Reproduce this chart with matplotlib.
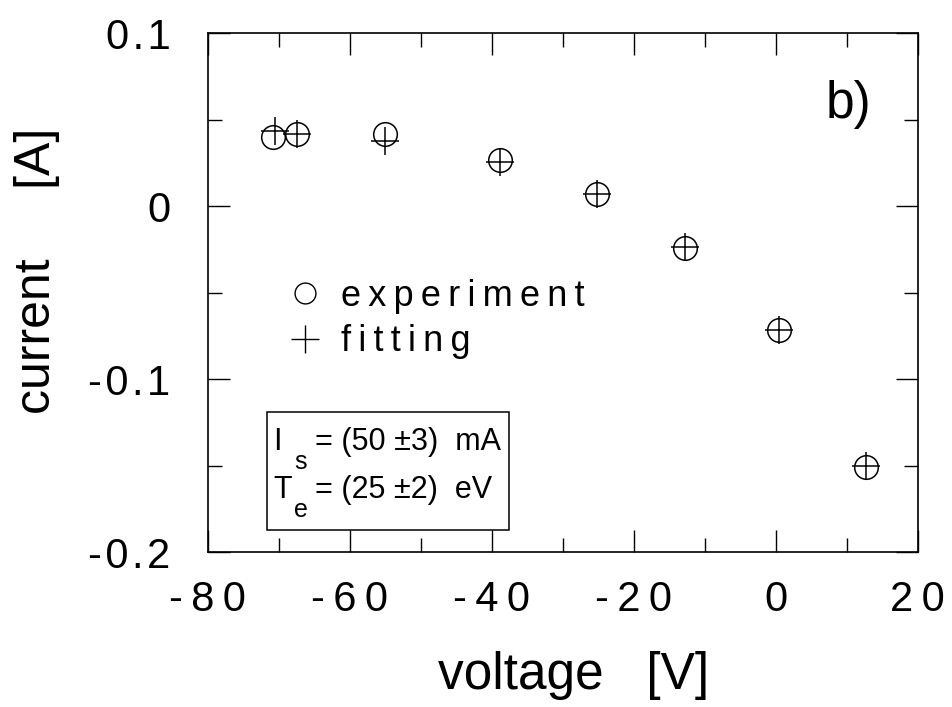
import matplotlib
matplotlib.use("Agg")
import matplotlib.pyplot as plt
from matplotlib.lines import Line2D
from matplotlib.patches import Rectangle
from matplotlib.ticker import MultipleLocator, FuncFormatter

plt.rcParams['font.family'] = ['Liberation Sans', 'DejaVu Sans']

volt_exp = [-70.8, -67.4, -55.0, -38.8, -25.2, -12.8, 0.5, 12.7]
curr_exp = [0.0398, 0.0417, 0.0420, 0.0267, 0.0071, -0.0240, -0.0717, -0.1506]
volt_fit = [-70.5, -67.4, -55.0, -38.8, -25.2, -12.8, 0.5, 12.7]
curr_fit = [0.0437, 0.0417, 0.0375, 0.0254, 0.0071, -0.0235, -0.0717, -0.1500]

legend_labels = ["experiment", "fitting"]
# fit result box: symbol, subscript, rest of the line
fit_symbols = ["I", "T"]
fit_subs = ["s", "e"]
fit_rest = ["= (50 \u00b13)  mA", "= (25 \u00b12)  eV"]

THIN = "\u2009"
HAIR = "\u200a"


def spaced_x(val, pos):
    # the old plotting package puts gaps between the characters
    s = "%g" % val
    return THIN.join(s)


def spaced_y(val, pos):
    s = "%g" % round(val, 3)
    if s == "-0":
        s = "0"
    return HAIR.join(s)


fig = plt.figure(figsize=(9.53, 7.07), dpi=100)
ax = fig.add_axes([0.218, 0.219, 0.745, 0.734])

ax.plot(volt_exp, curr_exp, linestyle='none', marker='o', ms=17,
        mfc='none', mec='black', mew=1.1)
ax.plot(volt_fit, curr_fit, linestyle='none', marker='+', ms=20,
        color='black', mew=1.1)

ax.set_xlim(-80, 20)
ax.set_ylim(-0.2, 0.1)
ax.xaxis.set_major_locator(MultipleLocator(20))
ax.xaxis.set_minor_locator(MultipleLocator(10))
ax.yaxis.set_major_locator(MultipleLocator(0.1))
ax.yaxis.set_minor_locator(MultipleLocator(0.05))
ax.xaxis.set_major_formatter(FuncFormatter(spaced_x))
ax.yaxis.set_major_formatter(FuncFormatter(spaced_y))
ax.tick_params(which='both', direction='in', top=True, right=True,
               labelsize=30, width=1)
ax.tick_params(which='major', length=16)
ax.tick_params(which='minor', length=10)
ax.tick_params(axis='x', which='major', pad=20)
ax.tick_params(axis='y', which='major', pad=27)
for sp in ax.spines.values():
    sp.set_linewidth(1.2)

ax.set_xlabel("voltage   [V]", fontsize=37, va='top')
ax.xaxis.set_label_coords(0.515, -0.19)
ax.set_ylabel("current     [A]", fontsize=36)
ax.yaxis.set_label_coords(-0.208, 0.542)

ax.text(0.902, 0.862, "b)", transform=ax.transAxes, fontsize=37,
        ha='center', va='center')

handles = [Line2D([], [], linestyle='none', marker='o', ms=15, mfc='none',
                  mec='black', mew=1.0),
           Line2D([], [], linestyle='none', marker='+', ms=20, color='black',
                  mew=1.0)]
ax.legend(handles, [THIN.join(s) for s in legend_labels], loc='upper left',
          bbox_to_anchor=(0.086, 0.562), frameon=False, fontsize=26,
          handlelength=1.0, handletextpad=0.5, labelspacing=0.3,
          borderpad=0)

# boxed fit result with the low-set subscripts of the original
ax.add_patch(Rectangle((0.083, 0.042), 0.342, 0.228, transform=ax.transAxes,
                       fill=False, ec='black', lw=1.1))
line_y = [0.197, 0.104]
for sym, sub, rest, y in zip(fit_symbols, fit_subs, fit_rest, line_y):
    ax.text(0.092, y, sym, transform=ax.transAxes, fontsize=22,
            va='baseline', ha='left')
    ax.text(0.122, y - 0.036, sub, transform=ax.transAxes, fontsize=18,
            va='baseline', ha='left')
    ax.text(0.151, y, rest, transform=ax.transAxes, fontsize=22,
            va='baseline', ha='left')

fig.savefig("out.png", dpi=100)
